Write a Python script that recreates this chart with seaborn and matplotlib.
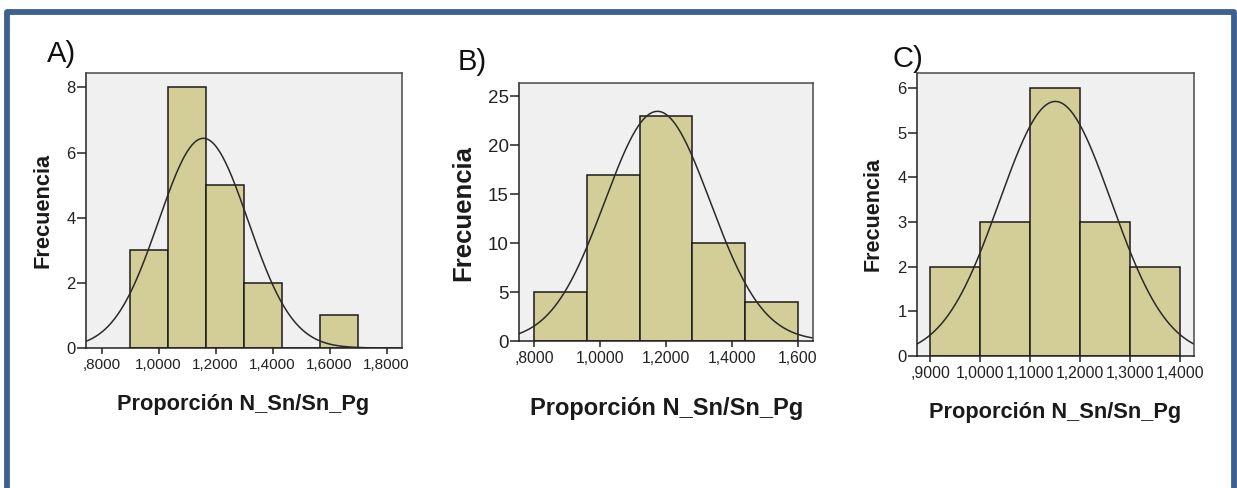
import numpy as np
import pandas as pd
import matplotlib.pyplot as plt
import seaborn as sns
from matplotlib.patches import Rectangle

# panel A
a_edges = [0.9, 1.0333, 1.1667, 1.3, 1.4333, 1.5667, 1.7]
a_counts = [3, 8, 5, 2, 0, 1]
a_mean, a_sd = 1.157, 0.157
a_xticks = [0.8, 1.0, 1.2, 1.4, 1.6, 1.8]
a_xticklabels = [',8000', '1,0000', '1,2000', '1,4000', '1,6000', '1,8000']
a_yticks = [0, 2, 4, 6, 8]

# panel B
b_edges = [0.8, 0.96, 1.12, 1.28, 1.44, 1.60]
b_counts = [5, 17, 23, 10, 4]
b_mean, b_sd = 1.174, 0.1605
b_xticks = [0.8, 1.0, 1.2, 1.4, 1.6]
b_xticklabels = [',8000', '1,0000', '1,2000', '1,4000', '1,600']
b_yticks = [0, 5, 10, 15, 20, 25]

# panel C
c_edges = [0.9, 1.0, 1.1, 1.2, 1.3, 1.4]
c_counts = [2, 3, 6, 3, 2]
c_mean, c_sd = 1.150, 0.112
c_xticks = [0.9, 1.0, 1.1, 1.2, 1.3, 1.4]
c_xticklabels = [',9000', '1,0000', '1,1000', '1,2000', '1,3000', '1,4000']
c_yticks = [0, 1, 2, 3, 4, 5, 6]

panel_letters = ['A)', 'B)', 'C)']
xlabel = 'Proporción N_Sn/Sn_Pg'
ylabel = 'Frecuencia'

W, H = 1237, 488
BAR = '#d3ce97'
FACE = '#f0f0f0'
INK = '#222222'

sns.set_style('white')
plt.rcParams['font.family'] = ['Liberation Sans', 'DejaVu Sans']


def px_rect(l, t, r, b):
    return [l / W, 1 - b / H, (r - l) / W, (b - t) / H]


def draw_panel(ax, edges, counts, mean, sd, xlim, ylim, xticks, xticklabels, yticks,
               xsize=11.2, ysize=12):
    edges = np.array(edges)
    df = pd.DataFrame({'x': (edges[:-1] + edges[1:]) / 2, 'n': counts})
    sns.histplot(data=df, x='x', weights='n', bins=list(edges), ax=ax, color=BAR,
                 edgecolor='#1a1a1a', linewidth=1.1, alpha=1)
    # fitted normal curve
    width = edges[1] - edges[0]
    n = sum(counts)
    xs = np.linspace(xlim[0], xlim[1], 400)
    ys = n * width / (sd * np.sqrt(2 * np.pi)) * np.exp(-0.5 * ((xs - mean) / sd) ** 2)
    ax.plot(xs, ys, color='#2a2a2a', lw=1.1)
    ax.set_facecolor(FACE)
    ax.set_xlim(xlim)
    ax.set_ylim(ylim)
    ax.set_xticks(xticks)
    ax.set_xticklabels(xticklabels)
    ax.set_yticks(yticks)
    ax.set_xlabel('')
    ax.set_ylabel('')
    for side in ['top', 'right']:
        ax.spines[side].set_color('#4a4a4a')
        ax.spines[side].set_linewidth(1.1)
    for side in ['left', 'bottom']:
        ax.spines[side].set_color(INK)
        ax.spines[side].set_linewidth(1.1)
    ax.tick_params(axis='x', bottom=True, direction='out', length=4.5, width=1.1,
                   color=INK, labelcolor=INK, labelsize=xsize, pad=3)
    ax.tick_params(axis='y', left=True, direction='out', length=6.5, width=1.1,
                   color=INK, labelcolor=INK, labelsize=ysize, pad=0.8)


fig = plt.figure(figsize=(W / 100, H / 100), dpi=100)

ax_a = fig.add_axes(px_rect(86, 73, 402, 348))
draw_panel(ax_a, a_edges, a_counts, a_mean, a_sd, (0.745, 1.854), (0, 8.44),
           a_xticks, a_xticklabels, a_yticks, xsize=11, ysize=12)

ax_b = fig.add_axes(px_rect(519, 83, 813, 341))
draw_panel(ax_b, b_edges, b_counts, b_mean, b_sd, (0.753, 1.647), (0, 26.36),
           b_xticks, b_xticklabels, b_yticks, xsize=11.3, ysize=13.5)

ax_c = fig.add_axes(px_rect(917, 73, 1194, 356))
draw_panel(ax_c, c_edges, c_counts, c_mean, c_sd, (0.8734, 1.4273), (0, 6.336),
           c_xticks, c_xticklabels, c_yticks, xsize=11.3, ysize=12)

# panel letters
for letter, (x, y) in zip(panel_letters, [(47, 62), (458, 70), (892, 67)]):
    fig.text(x / W, 1 - y / H, letter, fontsize=21,
             ha='left', va='baseline', color='#111111')

# axis titles
for (x, y, size) in [(243.5, 410, 15.7), (666.7, 415, 17.0), (1055, 418, 15.7)]:
    fig.text(x / W, 1 - y / H, xlabel, fontsize=size, fontweight='bold',
             ha='center', va='baseline', color='#1a1a1a')
for (x, y, size) in [(43, 210, 15.7), (463, 213, 18.5), (873, 214, 15.5)]:
    fig.text(x / W, 1 - y / H, ylabel, fontsize=size, fontweight='bold',
             rotation=90, ha='center', va='center', color='#1a1a1a')

# blue frame around the figure
frame = Rectangle((7 / W, -0.05), (1233.5 - 7) / W, (H - 11.5) / H + 0.05,
                  transform=fig.transFigure, fill=False, edgecolor='#3d6090',
                  linewidth=4.2, joinstyle='round')
fig.patches.append(frame)

fig.savefig('out.png', dpi=100)
